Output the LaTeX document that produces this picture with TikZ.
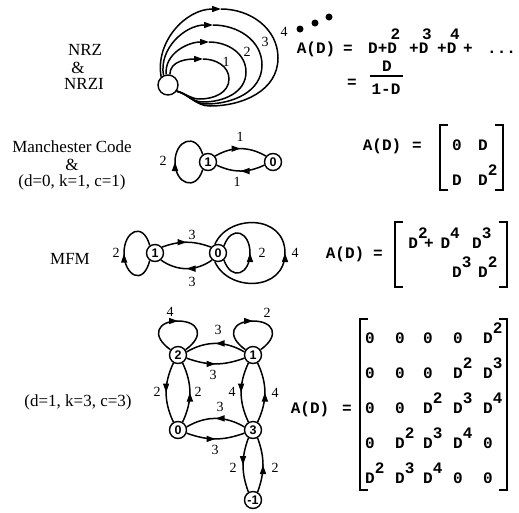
\documentclass[tikz,border=0pt]{standalone}
\usepackage{fontspec}
\setmainfont{Liberation Serif}
\newfontfamily\nodefont{Liberation Sans}
\newfontfamily\monob{Liberation Mono}
\usetikzlibrary{arrows.meta,decorations.markings}
\newcommand\Dex[1]{D\rlap{\kern-0.4em\raisebox{0.85em}{#1}}}
\newcommand\Dm[1]{D\rlap{\raisebox{0.62em}{#1}}}
\begin{document}
\begin{tikzpicture}[x=1pt,y=-1pt,
  txt/.style={font=\fontsize{17}{20}\selectfont, inner sep=0pt},
  lbl/.style={font=\fontsize{14}{16}\selectfont, inner sep=0pt},
  st/.style={circle,draw,line width=1.4pt,minimum size=17pt,inner sep=0pt,font=\nodefont\bfseries\fontsize{12.5}{14}\selectfont},
  mt/.style={anchor=base,inner sep=0pt,font=\monob\bfseries\fontsize{16}{18}\selectfont},
  ed/.style={line width=1.5pt},
  tip/.style={-{Triangle[length=9pt,width=6pt]}},
  ma/.style={postaction={decorate},decoration={markings,mark=at position #1 with {\arrow{Triangle[length=9pt,width=6pt]}}}},
  ma/.default=0.5,
  brk/.style={line width=1.8pt},
  dot/.style={circle,fill,minimum size=7pt,inner sep=0pt},
]
\path[use as bounding box] (0,0) rectangle (519,512);

% ---------- NRZ ----------
\node[txt] (nrz) at (85,50) {NRZ};
\node[txt] (amp1) at (78,68) {\&};
\node[txt] (nrzi) at (84,84) {NRZI};
\node[circle,draw,line width=1.4pt,minimum size=20pt,inner sep=0pt] (c) at (168,85) {};
\coordinate (t1) at (203,59);
\coordinate (t2) at (209,42);
\coordinate (t3) at (213,25);
\coordinate (t4) at (221,9);
\draw[ed,tip] (c.80) to[out=90,in=180] (t1);
\draw[ed] (t1) to[out=0,in=90] (229,79) to[out=-90,in=0] (200,99) to[out=180,in=-15] (c.-35);
\draw[ed,tip] (c.100) to[out=95,in=180] (t2);
\draw[ed] (t2) to[out=0,in=90] (246,72) to[out=-90,in=0] (203,102) to[out=180,in=-15] (c.-35);
\draw[ed,tip] (c.115) to[out=100,in=180] (t3);
\draw[ed] (t3) to[out=0,in=90] (262,65) to[out=-90,in=0] (206,104) to[out=180,in=-15] (c.-35);
\draw[ed,tip] (c.130) to[out=100,in=180] (t4);
\draw[ed] (t4) to[out=0,in=90] (278,58) to[out=-90,in=0] (210,106) to[out=180,in=-15] (c.-35);
\node[lbl] (l1) at (226,62) {1};
\node[lbl] (l2) at (247,52) {2};
\node[lbl] (l3) at (265,42) {3};
\node[lbl] (l4) at (284,32) {4};
\node[dot] (d1) at (300,29) {};
\node[dot] (d2) at (315,23) {};
\node[dot] (d3) at (329,17) {};

\node[mt] (a1) at (316,53) {A(D)};
\node[mt] (e1) at (348,53) {=};
\node[mt,anchor=base west] (s1) at (368,53) {D+\Dex{2}\kern12.2pt+\Dex{3}\kern8.8pt+\Dex{4}\kern6.8pt+\kern14.4pt...};
\node[mt] (e2) at (352,87) {=};
\node[mt] (fn) at (387,71) {D};
\node[mt] (fd) at (386,94) {1-D};
\draw[line width=1.3pt] (370,76) -- (403,76);

% ---------- Manchester ----------
\node[txt] (man) at (72,147) {Manchester Code};
\node[txt] (amp2) at (72,165) {\&};
\node[txt] (dkc1) at (72,182) {(d=0, k=1, c=1)};
\node[st] (m1) at (208,162) {1};
\node[st] (m0) at (273,162) {0};
\draw[ed,ma] (m1.235) .. controls (196,192) and (175,184) .. (175,162) .. controls (175,140) and (196,132) .. (m1.125);
\draw[ed,ma] (m1.40) to[bend left=30] (m0.140);
\draw[ed,ma] (m0.200) to[bend left=25] (m1.340);
\node[lbl] (ml1) at (240,137) {1};
\node[lbl] (ml2) at (237,182) {1};
\node[lbl] (ml3) at (163,161) {2};

\node[mt] (a2) at (382,150) {A(D)};
\node[mt] (e3) at (417,150) {=};
\draw[brk] (448,125) -- (440,125) -- (440,190) -- (448,190);
\draw[brk] (495,125) -- (503,125) -- (503,190) -- (495,190);
\node[mt] (p11) at (457,150) {0};
\node[mt] (p12) at (483,150) {D};
\node[mt] (p21) at (457,185) {D};
\node[mt] (p22) at (483,185) {\Dm{2}};

% ---------- MFM ----------
\node[txt] (mfm) at (70,259) {MFM};
\node[st] (f1) at (155,253) {1};
\node[st] (f0) at (218,253) {0};
\draw[ed,ma] (f1.235) .. controls (143,287) and (124,275) .. (124,253) .. controls (124,231) and (143,221) .. (f1.125);
\draw[ed,ma] (f1.40) to[bend left=20] (f0.140);
\draw[ed,ma] (f0.230) to[bend left=35] (f1.310);
\draw[ed,ma] (f0.-50) .. controls (232,282) and (250,274) .. (250,253) .. controls (250,232) and (232,224) .. (f0.50);
\draw[ed,ma] (f0.-110) .. controls (228,292) and (285,292) .. (285,253) .. controls (285,214) and (228,214) .. (f0.110);
\node[lbl] (fl1) at (116,253) {2};
\node[lbl] (fl2) at (192,235) {3};
\node[lbl] (fl3) at (192,282) {3};
\node[lbl] (fl4) at (262,253) {2};
\node[lbl] (fl5) at (295,253) {4};

\node[mt] (a3) at (345,258) {A(D)};
\node[mt] (e4) at (378,258) {=};
\draw[brk] (403,222) -- (395,222) -- (395,287) -- (403,287);
\draw[brk] (499,222) -- (507,222) -- (507,287) -- (499,287);
\node[mt,anchor=base west] (q11) at (408.2,248) {\Dm{2}\kern6pt+\kern7pt\Dm{4}};
\node[mt] (q14) at (477,248) {\Dm{3}};
\node[mt] (q21) at (457,277) {\Dm{3}};
\node[mt] (q22) at (483,277) {\Dm{2}};

% ---------- (d=1,k=3,c=3) ----------
\node[txt] (dkc2) at (78,402) {(d=1, k=3, c=3)};
\node[st] (n2) at (178,355) {2};
\node[st] (n1) at (253,355) {1};
\node[st] (n0) at (178,430) {0};
\node[st] (n3) at (253,430) {3};
\node[st] (nm) at (253,500) {-1};
\draw[ed,ma] (n2.145) .. controls (150,335) and (158,321) .. (178,321) .. controls (198,321) and (206,335) .. (n2.35);
\draw[ed,ma] (n1.145) .. controls (225,335) and (233,321) .. (253,321) .. controls (273,321) and (281,335) .. (n1.35);
\draw[ed,ma] (n1.160) to[bend right=30] (n2.20);
\draw[ed,ma] (n2.-20) to[bend right=20] (n1.200);
\draw[ed,ma] (n2.240) to[bend right=25] (n0.120);
\draw[ed,ma] (n0.60) to[bend right=25] (n2.300);
\draw[ed,ma] (n1.240) to[bend right=25] (n3.120);
\draw[ed,ma] (n3.60) to[bend right=25] (n1.300);
\draw[ed,ma] (n3.160) to[bend right=30] (n0.20);
\draw[ed,ma] (n0.-20) to[bend right=20] (n3.200);
\draw[ed,ma] (n3.240) to[bend right=20] (nm.120);
\draw[ed,ma] (nm.60) to[bend right=20] (n3.300);
\node[lbl] (kl1) at (170,312) {4};
\node[lbl] (kl2) at (267,313) {2};
\node[lbl] (kl3) at (218,330) {3};
\node[lbl] (kl4) at (213,375) {3};
\node[lbl] (kl5) at (157,392) {2};
\node[lbl] (kl6) at (198,392) {2};
\node[lbl] (kl7) at (232,392) {4};
\node[lbl] (kl8) at (275,393) {4};
\node[lbl] (kl9) at (220,407) {3};
\node[lbl] (kl10) at (215,450) {3};
\node[lbl] (kl11) at (233,468) {2};
\node[lbl] (kl12) at (275,468) {2};

\node[mt] (a4) at (310,413) {A(D)};
\node[mt] (e5) at (347,413) {=};
\draw[brk] (368,319) -- (360,319) -- (360,490) -- (368,490);
\draw[brk] (499,319) -- (507,319) -- (507,490) -- (499,490);
\foreach \r/\yy/\a/\b/\c/\d/\e in {
  1/343/0/0/0/0/\Dm{2},
  2/378/0/0/0/\Dm{2}/\Dm{3},
  3/413/0/0/\Dm{2}/\Dm{3}/\Dm{4},
  4/448/0/\Dm{2}/\Dm{3}/\Dm{4}/0,
  5/483/\Dm{2}/\Dm{3}/\Dm{4}/0/0}{
  \node[mt] (r\r c1) at (370,\yy) {\a};
  \node[mt] (r\r c2) at (400,\yy) {\b};
  \node[mt] (r\r c3) at (428,\yy) {\c};
  \node[mt] (r\r c4) at (458,\yy) {\d};
  \node[mt] (r\r c5) at (488,\yy) {\e};
}
\end{tikzpicture}
\end{document}
